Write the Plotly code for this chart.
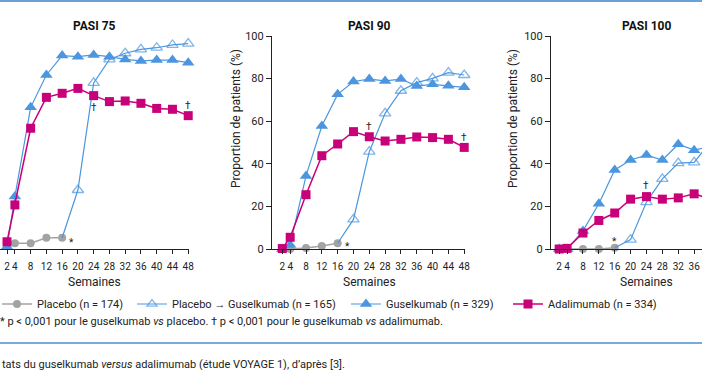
import plotly.graph_objects as go

W, H = 702, 370

weeks = [2, 4, 8, 12, 16, 20, 24, 28, 32, 36, 40, 44, 48]
placebo_weeks = [2, 4, 8, 12, 16]
switch_weeks = [16, 20, 24, 28, 32, 36, 40, 44, 48]

# PASI 75
placebo75 = [2.0, 2.7, 2.7, 5.3, 5.3]
switch75 = [5.3, 27.7, 78.0, 89.0, 91.9, 93.7, 94.5, 95.8, 96.4]
gus75 = [1.0, 24.6, 66.5, 81.7, 90.8, 90.3, 91.1, 90.3, 89.0, 88.3, 88.7, 88.7, 87.5]
ada75 = [3.4, 20.7, 56.7, 71.2, 73.1, 75.4, 72.0, 69.2, 69.5, 68.4, 66.0, 65.6, 62.6]

# PASI 90
placebo90 = [0.0, 0.0, 0.5, 1.4, 2.7]
switch90 = [2.7, 13.9, 45.7, 63.7, 74.3, 78.1, 80.1, 82.8, 81.7]
gus90 = [0.0, 1.9, 34.3, 57.7, 72.6, 78.6, 79.8, 78.9, 79.8, 76.5, 77.3, 76.7, 75.9]
ada90 = [0.2, 5.5, 25.5, 43.8, 49.3, 55.1, 52.7, 50.7, 51.5, 52.6, 52.3, 51.5, 47.7]

# PASI 100
placebo100 = [0.0, 0.0, 0.0, 0.0, 0.6]
switch100 = [0.6, 4.4, 22.0, 32.9, 40.3, 40.7, 50.0, 50.5, 51.0]
gus100 = [0.0, 0.0, 8.5, 21.2, 37.1, 41.8, 44.1, 41.8, 49.2, 46.4, 48.0, 47.0, 47.4]
ada100 = [0.0, 0.3, 7.5, 13.4, 16.9, 23.4, 24.6, 23.4, 24.0, 25.9, 23.5, 23.0, 23.4]

panel_titles = ["PASI 75", "PASI 90", "PASI 100"]
series_names = ["Placebo (n = 174)", "Placebo <b>\u2192</b> Guselkumab (n = 165)",
                "Guselkumab (n = 329)", "Adalimumab (n = 334)"]
x_ticks = [2, 4, 8, 12, 16, 20, 24, 28, 32, 36, 40, 44, 48]
y_ticks = [0, 20, 40, 60, 80, 100]

BLUE = "#4b96df"
PINK = "#c8007a"
GREY = "#a3a3a3"
AXC = "#222222"
FONT = "Roboto"

panels = [
    (placebo75, switch75, gus75, ada75),
    (placebo90, switch90, gus90, ada90),
    (placebo100, switch100, gus100, ada100),
]
legend_ids = ["legend", "legend2", "legend3", "legend4"]

fig = go.Figure()

for i, (pl, sw, gu, ad) in enumerate(panels):
    xa = "x" if i == 0 else f"x{i+1}"
    ya = "y" if i == 0 else f"y{i+1}"
    show = i == 0
    fig.add_trace(go.Scatter(x=placebo_weeks, y=pl, mode="lines+markers", name=series_names[0],
                             xaxis=xa, yaxis=ya, showlegend=show, legend=legend_ids[0], cliponaxis=False,
                             line=dict(color=GREY, width=1.5),
                             marker=dict(symbol="circle", size=8, color=GREY)))
    fig.add_trace(go.Scatter(x=switch_weeks, y=sw, mode="lines+markers", name=series_names[1],
                             xaxis=xa, yaxis=ya, showlegend=show, legend=legend_ids[1], cliponaxis=False,
                             line=dict(color=BLUE, width=1.2),
                             marker=dict(symbol="triangle-up-open", size=[0] + [10] * (len(sw) - 1),
                                         color=BLUE, line=dict(width=1.3, color=BLUE))))
    fig.add_trace(go.Scatter(x=weeks, y=gu, mode="lines+markers", name=series_names[2],
                             xaxis=xa, yaxis=ya, showlegend=show, legend=legend_ids[2], cliponaxis=False,
                             line=dict(color=BLUE, width=1.2),
                             marker=dict(symbol="triangle-up", size=11, color=BLUE)))
    fig.add_trace(go.Scatter(x=weeks, y=ad, mode="lines+markers", name=series_names[3],
                             xaxis=xa, yaxis=ya, showlegend=show, legend=legend_ids[3], cliponaxis=False,
                             line=dict(color=PINK, width=1.5),
                             marker=dict(symbol="square", size=9, color=PINK)))

y_dom = [1 - 249 / H, 1 - 36 / H]
x_doms = [[0, 189 / W], [272 / W, 465 / W], [551 / W, 1.0]]
x_ranges = [[0.22, 48.2], [-0.6, 48.2], [-0.05, 37.98]]

axis_common_x = dict(showline=True, linecolor=AXC, linewidth=1.2, ticks="outside", ticklen=4,
                     tickcolor=AXC, tickwidth=1.2, tickvals=x_ticks, showgrid=False, zeroline=False,
                     tickangle=0, automargin=False, ticklabelstandoff=4,
                     tickfont=dict(family=FONT, size=10, color="#222"))
axis_common_y = dict(range=[0, 100], showline=True, linecolor=AXC, linewidth=1.2, ticks="outside",
                     ticklen=5, tickcolor=AXC, tickwidth=1.2, tickvals=y_ticks, showgrid=False,
                     zeroline=False, automargin=False, tickfont=dict(family=FONT, size=11, color="#222"))

layout_axes = {}
for i in range(3):
    xk = "xaxis" if i == 0 else f"xaxis{i+1}"
    yk = "yaxis" if i == 0 else f"yaxis{i+1}"
    ax = dict(axis_common_x, domain=x_doms[i], range=x_ranges[i], anchor="y" if i == 0 else f"y{i+1}")
    ay = dict(axis_common_y, domain=y_dom, anchor="x" if i == 0 else f"x{i+1}")
    if i == 0:
        ay.update(showline=False, showticklabels=False, ticks="")
    layout_axes[xk] = ax
    layout_axes[yk] = ay

fig.update_layout(**layout_axes)

annotations = []
title_x = [94, 369, 646]
for i in range(3):
    annotations.append(dict(text=f"<b>{panel_titles[i]}</b>", x=title_x[i] / W, y=1 - 26 / H,
                            xref="paper", yref="paper", showarrow=False, xanchor="center", yanchor="middle",
                            font=dict(family=FONT, size=12, color="#111")))
    annotations.append(dict(text="Semaines", x=title_x[i] / W, y=1 - 282 / H,
                            xref="paper", yref="paper", showarrow=False, xanchor="center", yanchor="middle",
                            font=dict(family=FONT, size=12, color="#222")))
for px in [236, 513]:
    annotations.append(dict(text="Proportion de patients (%)", x=px / W, y=1 - 119 / H,
                            xref="paper", yref="paper", showarrow=False, textangle=-90,
                            xanchor="center", yanchor="middle",
                            font=dict(family=FONT, size=12, color="#222")))

# significance marks
marks = [
    ("x", "y", 24, 66.5, "\u2020"), ("x", "y", 48, 67.5, "\u2020"), ("x", "y", 18.3, 3.0, "*"),
    ("x2", "y2", 24, 57.5, "\u2020"), ("x2", "y2", 48, 52.5, "\u2020"), ("x2", "y2", 18.5, 1.0, "*"),
    ("x3", "y3", 24, 30.0, "\u2020"), ("x3", "y3", 16, 3.5, "*"),
]
for xr, yr, xv, yv, t in marks:
    annotations.append(dict(text=t, x=xv, y=yv, xref=xr, yref=yr, showarrow=False,
                            xanchor="center", yanchor="middle",
                            font=dict(family=FONT, size=10, color="#222")))

annotations.append(dict(text="* p < 0,001 pour le guselkumab <i>vs</i> placebo. \u2020 p < 0,001 pour le guselkumab <i>vs</i> adalimumab.",
                        x=-2 / W, y=1 - 321 / H, xref="paper", yref="paper", xanchor="left", yanchor="middle",
                        showarrow=False, font=dict(family=FONT, size=11, color="#222")))
annotations.append(dict(text="tats du guselkumab <i>versus</i> adalimumab (étude VOYAGE 1), d\u2019après [3].",
                        x=0, y=1 - 364 / H, xref="paper", yref="paper", xanchor="left", yanchor="middle",
                        showarrow=False, font=dict(family=FONT, size=11, color="#222")))

shapes = [
    dict(type="line", xref="paper", yref="paper", x0=0, x1=1, y0=1 - 1 / H, y1=1 - 1 / H,
         line=dict(color="#6a9fd8", width=2)),
    dict(type="line", xref="paper", yref="paper", x0=0, x1=1, y0=1 - 343 / H, y1=1 - 343 / H,
         line=dict(color="#7aaad9", width=2)),
]

legend_x = [-3, 132, 346, 508]
legends = {}
for lid, lx in zip(legend_ids, legend_x):
    legends[lid] = dict(orientation="h", x=lx / W, y=1 - 304 / H, xanchor="left", yanchor="middle",
                        font=dict(family=FONT, size=11, color="#222"), bgcolor="rgba(0,0,0,0)",
                        itemclick=False, borderwidth=0)

fig.update_layout(
    width=W, height=H, margin=dict(l=0, r=0, t=0, b=0, autoexpand=False),
    paper_bgcolor="white", plot_bgcolor="white",
    annotations=annotations, shapes=shapes,
    font=dict(family=FONT),
    **legends,
)

fig.write_html("out.html", config={"displayModeBar": False},
               post_script="document.body.style.margin='0';document.body.style.padding='0';")
